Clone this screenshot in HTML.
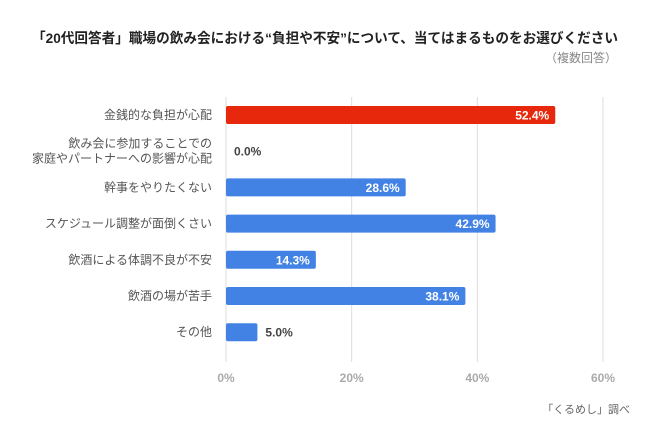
<!DOCTYPE html>
<html><head><meta charset="utf-8"><style>
body{margin:0;width:650px;height:434px;background:#fff;overflow:hidden;font-family:"Liberation Sans","Noto Sans CJK JP",sans-serif;}
#c{position:absolute;left:0;top:0}
</style></head><body>
<svg id="c" width="650" height="434" xmlns="http://www.w3.org/2000/svg">
<text x="325" y="43" text-anchor="middle" font-size="14" font-weight="bold" fill="#222" textLength="586" lengthAdjust="spacingAndGlyphs">「20代回答者」職場の飲み会における“負担や不安”について、当てはまるものをお選びください</text>
<text x="617" y="62" text-anchor="end" font-size="12" fill="#888">（複数回答）</text>
<g id="grid"></g><g id="bars"></g><g id="labels"></g>
<text x="630" y="413" text-anchor="end" font-size="11" fill="#666">「くるめし」調べ</text>
</svg>
<script>
const categories=[["金銭的な負担が心配"],["飲み会に参加することでの","家庭やパートナーへの影響が心配"],["幹事をやりたくない"],["スケジュール調整が面倒くさい"],["飲酒による体調不良が不安"],["飲酒の場が苦手"],["その他"]];
const values=[52.4,0.0,28.6,42.9,14.3,38.1,5.0];
const ticks=[0,20,40,60];
const highlight=[true,false,false,false,false,false,false];
const NS="http://www.w3.org/2000/svg";
const x0=226,x1=603,xmax=60;
const xs=v=>x0+(x1-x0)*v/xmax;
const plotTop=97,step=36.2;
const yc=i=>plotTop+18+i*step;
function mk(t,a,p){const e=document.createElementNS(NS,t);for(const k in a)e.setAttribute(k,a[k]);p.appendChild(e);return e;}
const g=document.getElementById('grid'),b=document.getElementById('bars'),l=document.getElementById('labels');
ticks.forEach(t=>{
 const ln=mk('line',{x1:xs(t),x2:xs(t),y1:97,y2:362,stroke:'#dcdcdc','stroke-width':1},g);
 
 
 const tx=mk('text',{x:xs(t),y:382,'text-anchor':'middle','font-size':12,'font-weight':'bold',fill:'#aaa'},g);
 tx.textContent=t+'%';
 
 
});
values.forEach((v,i)=>{
 const y=yc(i);
 const r=mk('rect',{x:x0,y:y-9,width:Math.max(0,xs(v)-x0),height:18,rx:2,fill:highlight[i]?'#e8280c':'#4282e4'},b);
 
 
 const lines=categories[i];
 lines.forEach((s,j)=>{
  const t=mk('text',{x:212,y:y+4+(j-(lines.length-1)/2)*15,'text-anchor':'end','font-size':12,fill:'#555'},l);
  t.textContent=s;
  
  
 });
 const inside=xs(v)-x0>40;
 const vt=mk('text',{x:inside?xs(v)-6:xs(v)+8,y:y+4.5,'text-anchor':inside?'end':'start','font-size':12,'font-weight':'bold',fill:inside?'#fff':'#444'},l);
 vt.textContent=v.toFixed(1)+'%';
 
 
});
</script>
</body></html>
